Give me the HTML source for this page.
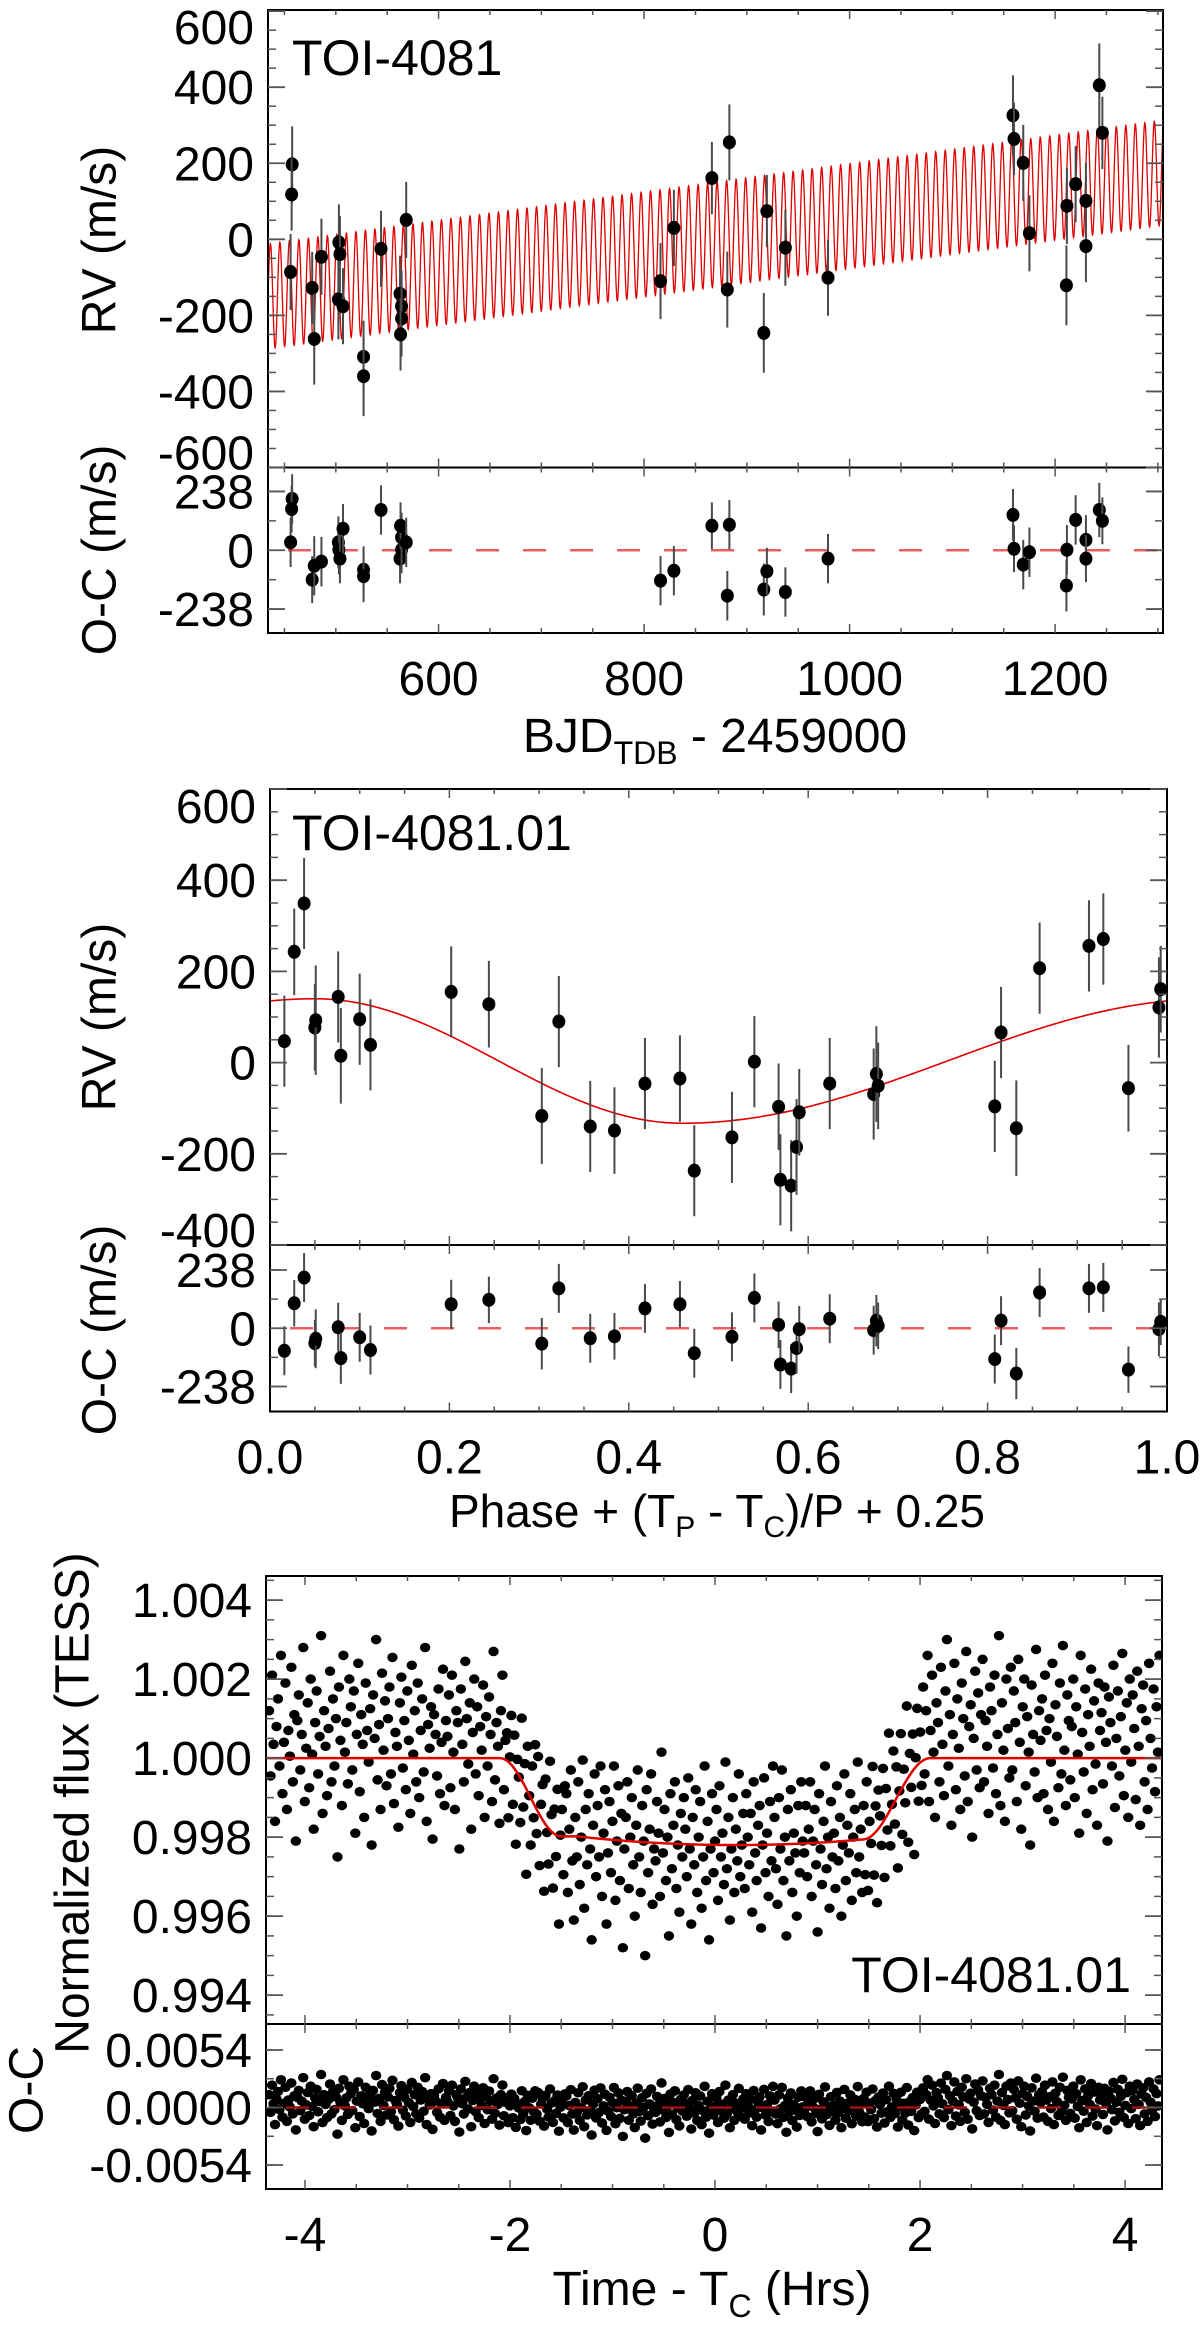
<!DOCTYPE html>
<html><head><meta charset="utf-8"><title>TOI-4081 RV and transit fits</title>
<style>
html,body{margin:0;padding:0;background:#fff;}
svg{display:block;font-family:"Liberation Sans",Arial,sans-serif;}
</style></head>
<body>
<svg id="fig" xmlns="http://www.w3.org/2000/svg" width="1200" height="2332" viewBox="0 0 1200 2332">
<defs>
<clipPath id="c1"><rect x="268" y="10" width="895" height="457.5"/></clipPath>
<clipPath id="c2"><rect x="270" y="789" width="897" height="456"/></clipPath>
<clipPath id="c3"><rect x="266" y="1576" width="896" height="448"/></clipPath>
<clipPath id="c3b"><rect x="266" y="2024" width="896" height="165"/></clipPath>
</defs>
</svg>
<script>
// ---------- Panel 1 data (RV vs time) ----------
const rv1Time=[457.5,457,456,477,479,486,502.5,503,504,507,527,527,544,562.5,564,564,563,568.5,816,829,866,883,881,916.5,919.5,937.5,979,1159,1160,1169,1175,1211,1211.5,1220,1230,1230,1243,1246];
const rv1Vel=[197,118,-86,-128,-262,-46,-158,-8,-39,-176,-309,-360,-25,-143,-176,-208,-250,51,-110,30,161,255,-132,-246,74,-22,-101,326,264,201,16,-121,88,145,101,-18,405,280];
const rv1Err=[100,95,100,95,120,100,105,100,100,100,95,105,100,100,95,100,95,100,100,100,95,100,100,105,95,100,100,105,95,100,100,105,100,100,100,95,110,95];
const oc1Vel=[208,167,32,-119,-63,-46,32,2,-34,87,-79,-105,163,-34,2,52,99,32,-123,-83,99,103,-184,-159,-85,-169,-34,143,6,-58,-8,-143,2,123,42,-34,163,119];
const p1XTicks=[600,800,1000,1200];
const p1YTicks=[-600,-400,-200,0,200,400,600];
const p1OcTicks=[-238,0,238];
// model parameters (trend + planet signal)
const m1Start=-150, m1Slope=0.373, m1K=138, m1Period=9.25;

// ---------- Panel 2 data (phased RV) ----------
const rv2Phase=[0.016,0.027,0.038,0.050,0.051,0.076,0.079,0.100,0.112,0.202,0.244,0.303,0.322,0.357,0.384,0.418,0.457,0.473,0.515,0.540,0.567,0.569,0.581,0.587,0.590,0.624,0.673,0.676,0.678,0.808,0.815,0.832,0.858,0.913,0.929,0.957,0.991,0.993];
const rv2Vel=[47,243,349,77,93,144,15,95,39,155,128,-117,90,-140,-149,-46,-35,-237,-164,2,-97,-257,-270,-185,-109,-46,-69,-25,-51,-96,66,-144,207,256,271,-56,121,161];
const oc2Vel=[-92,102,207,-61,-43,4,-122,-37,-89,98,116,-63,163,-41,-33,81,98,-102,-35,124,14,-148,-165,-81,-4,39,-8,31,10,-126,31,-185,146,163,167,-169,-4,26];
const p2XTicks=[0,0.2,0.4,0.6,0.8,1.0];
const p2YTicks=[-400,-200,0,200,400,600];
const p2OcTicks=[-238,0,238];
const m2K=136.5, m2Off=3.5, m2Peak=0.05, m2Min=0.46;

// ---------- Panel 3 data (TESS transit) ----------
const lcStart=-4.35, lcStep=0.0145;
// normalized flux minus 1, in units of 1e-5
const lcFlux=[
120,-45,210,35,-160,80,150,-20,260,-90,40,190,-130,70,5,230,-60,110,-210,95,
160,-30,60,280,-110,25,140,-75,200,10,-180,90,170,-40,55,310,-140,120,30,-95,
75,220,-60,150,-20,100,-250,180,45,-120,260,15,90,-65,200,130,-30,170,-190,60,
240,-85,110,35,-150,190,70,-10,125,-220,160,50,300,-55,85,-130,215,20,145,-70,
100,180,-40,255,-115,65,30,-175,140,205,-25,95,-80,170,45,-140,235,10,120,-60,
190,-100,70,150,-35,280,-160,85,25,130,-205,110,60,-45,175,-90,40,225,-120,95,
55,160,-75,210,15,-130,120,90,-230,175,35,-60,245,100,-15,140,-180,65,200,-40,
130,-95,80,20,185,-150,105,-20,155,60,-110,270,-55,90,30,-165,120,210,-80,45,
64,-151,3,108,-117,58,-218,-3,-48,-163,101,-124,-14,-294,30,-95,-220,-20,-151,34,
-191,4,-272,-117,-67,-337,-53,-188,-268,-8,-143,-329,-129,-249,-79,-420,-195,-130,-295,-70,
-90,-340,-180,-30,-260,-410,-150,-250,-60,-320,-200,-5,-380,-130,-270,-90,-230,-460,-170,-40,
-300,-120,-250,-20,-350,-190,-80,-420,-240,-110,-290,-160,-20,-360,-210,-70,-310,-140,-480,-230,
-150,-60,-330,-200,-100,-270,-400,-170,-30,-250,-340,-120,-210,-500,-80,-290,-180,-40,-370,-230,
-260,-110,-190,-350,15,-240,-130,-310,-200,-450,-90,-280,-170,-60,-330,-220,-390,-140,-250,-100,
-180,-300,-50,-230,-420,-150,-270,-80,-340,-200,-110,-380,-250,-20,-310,-160,-460,-230,-90,-290,
-210,-130,-360,-70,-250,-190,-320,-10,-280,-150,-410,-230,-100,-340,-180,-260,-40,-300,-220,-140,
-330,-90,-200,-270,-140,-390,-60,-240,-310,-170,-120,-430,-220,-50,-290,-190,-350,-110,-260,-20,
-150,-280,-370,-100,-230,-30,-310,-200,-450,-130,-260,-80,-340,-190,-240,-400,-120,-290,-60,-210,
-240,-120,-300,-180,-60,-350,-210,-130,-270,-440,-90,-230,-320,-160,-20,-280,-200,-380,-110,-250,
-190,-330,-70,-260,-150,-400,-220,-40,-310,-170,-240,-90,-360,-200,-130,-290,-10,-250,-180,-340,
-120,-295,-60,-335,-160,-216,-21,-296,-121,-366,-81,-146,-221,-26,-302,-77,-182,63,-222,-117,
18,-167,-22,-278,-83,62,-193,-28,-113,132,-213,12,-74,61,-244,1,126,-109,66,-69,
180,-40,120,260,-110,70,210,15,-150,140,90,-60,230,35,-95,170,300,-20,110,-170,
60,240,-80,150,25,-130,190,100,-45,270,-110,80,135,-200,50,220,-30,165,-75,110,
250,-60,95,30,-140,180,120,-25,210,-90,60,310,-120,140,20,-160,200,75,-50,230,
-30,170,90,-110,250,40,-180,130,200,-70,105,15,-220,185,60,-35,275,-100,120,45,
150,-90,210,70,-130,100,-10,240,-160,135,55,-75,190,-40,285,20,-120,160,95,-55,
80,200,-100,130,10,-190,260,65,-35,175,-140,110,30,225,-80,145,-15,-170,190,70,
115,-65,180,40,-210,155,90,-20,235,-125,50,170,-45,105,265,-95,20,140,-150,200,
-10,160,75,-105,220,30,-170,125,185,-60,95,-130,240,50,-25,175,-85,130,15,260];
const p3XTicks=[-4,-2,0,2,4];
const p3YTicks=[0.994,0.996,0.998,1.000,1.002,1.004];
const p3OcTicks=[-0.0054,0,0.0054];
const trDepth=0.0022, trT1=-2.1, trT2=-1.5, trT3=1.45, trT4=2.1;

// ---------- drawing ----------
const NS='http://www.w3.org/2000/svg';
const svg=document.getElementById('fig');
function mk(tag,attrs,parent){const e=document.createElementNS(NS,tag);for(const k in attrs)e.setAttribute(k,attrs[k]);(parent||svg).appendChild(e);return e;}
function grp(name){const g=mk('g',{});


return g;}
function lin(a,b){return v=>a[1]+(v-a[0])*(b[1]-a[1])/(b[0]-a[0]);}

function frame(P,g){
  mk('rect',{x:P.x0,y:P.y0,width:P.x1-P.x0,height:P.y1-P.y0,fill:'none',stroke:'#000','stroke-width':2},g);
  mk('line',{x1:P.x0,x2:P.x1,y1:P.ym,y2:P.ym,stroke:'#000','stroke-width':2},g);
}
function yTicks(P,g,sy,ticks,minorStep,lo,hi,fmt,top,bot){
  for(let v=Math.ceil(lo/minorStep)*minorStep; v<=hi+1e-12; v+=minorStep){
    const y=sy(v); if(y<top+1||y>bot-1) continue;
    mk('line',{x1:P.x0,x2:P.x0+8,y1:y,y2:y,stroke:'#555','stroke-width':1.5},g);
    mk('line',{x1:P.x1,x2:P.x1-8,y1:y,y2:y,stroke:'#555','stroke-width':1.5},g);
  }
  ticks.forEach(v=>{
    const y=sy(v);
    mk('line',{x1:P.x0,x2:P.x0+17,y1:y,y2:y,stroke:'#555','stroke-width':1.8},g);
    mk('line',{x1:P.x1,x2:P.x1-17,y1:y,y2:y,stroke:'#555','stroke-width':1.8},g);
    let cy=Math.min(Math.max(y,top+17),bot-15);
    const t=mk('text',{x:P.x0-14,y:cy+17,'font-size':48,'text-anchor':'end',fill:'#000'},g);
    t.textContent=fmt(v);
    
    
  });
}
function xTicks(P,g,sx,ticks,minorStep,lo,hi,fmt){
  [P.y0,P.ym,P.y1].forEach((yy,i)=>{
    for(let v=Math.ceil(lo/minorStep)*minorStep; v<=hi+1e-12; v+=minorStep){
      const x=sx(v); if(x<P.x0+1||x>P.x1-1) continue;
      const major=ticks.some(t=>Math.abs(t-v)<1e-9);
      const L=major?9:5;
      if(i!==0) mk('line',{x1:x,x2:x,y1:yy,y2:yy-L,stroke:'#555','stroke-width':1.5},g);
      if(i!==2) mk('line',{x1:x,x2:x,y1:yy,y2:yy+L,stroke:'#555','stroke-width':1.5},g);
    }
  });
  ticks.forEach(v=>{
    const t=mk('text',{x:sx(v),y:P.y1+62,'font-size':48,'text-anchor':'middle',fill:'#000'},g);
    t.textContent=fmt(v);
    
    
  });
}
function vtitle(x,y,s,size,g){
  const t=mk('text',{x:0,y:0,'font-size':size,'text-anchor':'middle','dominant-baseline':'central',transform:`translate(${x},${y}) rotate(-90)`,fill:'#000'},g);
  t.textContent=s;
  return t;
}
function pts(g,xs,ys,es,sx,sy,name){
  xs.forEach((xv,i)=>{
    const x=sx(xv), y=sy(ys[i]);
    if(es){
      const l=mk('line',{x1:x,x2:x,y1:sy(ys[i]-es[i]),y2:sy(ys[i]+es[i]),stroke:'#4a4a4a','stroke-width':2},g);
      
      
    }
    const c=mk('ellipse',{cx:x,cy:y,rx:6.5,ry:7,fill:'#000'},g);
    
    
  });
}
function zeroLine(P,g,y,color){
  const l=mk('line',{x1:P.x0,x2:P.x1,y1:y,y2:y,stroke:color,'stroke-width':2.5,'stroke-dasharray':'23 24','stroke-dashoffset':-20},g);
  
  
}

// ===== Panel 1 =====
(function(){
  const P={x0:268,x1:1163,y0:10,ym:467.5,y1:633};
  const g=grp('rv-time-panel');
  const sx=lin([434,P.x0],[1305,P.x1]);
  const sy=lin([603,P.y0],[-600,P.ym]);
  const so=lin([335,P.ym],[-335,P.y1]);
  let d='';
  for(let t=434;t<=1305;t+=0.25){
    const v=m1Start+m1Slope*(t-434)+m1K*Math.sin(2*Math.PI*(t-434)/m1Period);
    d+=(d?'L':'M')+sx(t).toFixed(2)+','+sy(v).toFixed(2);
  }
  const m=mk('path',{d:d,fill:'none',stroke:'#e00000','stroke-width':1.3,'clip-path':'url(#c1)'},g);
  
  
  zeroLine(P,g,so(0),'#e86060');
  pts(g,rv1Time,rv1Vel,rv1Err,sx,sy,'rv-point');
  pts(g,rv1Time,oc1Vel,rv1Err,sx,so,'residual-point');
  frame(P,g);
  yTicks(P,g,sy,p1YTicks,50,-600,603,v=>String(v),P.y0,P.ym);
  yTicks(P,g,so,p1OcTicks,119,-335,335,v=>String(v),P.ym,P.y1);
  xTicks(P,g,sx,p1XTicks,50,434,1305,v=>String(v));
  const ti=mk('text',{x:292,y:75,'font-size':50,fill:'#000'},g); ti.textContent='TOI-4081';
  
  
  const a=vtitle(100,240,'RV (m/s)',48,g);
  
  
  const b=vtitle(100,550,'O-C (m/s)',48,g);
  
  
  const xt=mk('text',{x:715,y:752,'font-size':48,'text-anchor':'middle',fill:'#000'},g);
  xt.innerHTML='BJD<tspan font-size="32" dy="12">TDB</tspan><tspan dy="-12"> - 2459000</tspan>';
  
  
})();

// ===== Panel 2 =====
(function(){
  const P={x0:270,x1:1167,y0:789,ym:1245,y1:1411.5};
  const g=grp('rv-phase-panel');
  const sx=lin([0,P.x0],[1,P.x1]);
  const sy=lin([600,P.y0],[-400,P.ym]);
  const so=lin([340,P.ym],[-340,P.y1]);
  const fall=m2Min-m2Peak, rise=1-fall;
  function model(ph){
    let u=ph-m2Peak; u=((u%1)+1)%1;
    let c;
    if(u<=fall) c=Math.cos(Math.PI*u/fall);
    else c=Math.cos(Math.PI+Math.PI*(u-fall)/rise);
    return m2Off+m2K*c;
  }
  let d='';
  for(let i=0;i<=400;i++){
    const ph=i/400;
    d+=(d?'L':'M')+sx(ph).toFixed(2)+','+sy(model(ph)).toFixed(2);
  }
  const m=mk('path',{d:d,fill:'none',stroke:'#e00000','stroke-width':1.6,'clip-path':'url(#c2)'},g);
  
  
  zeroLine(P,g,so(0),'#e86060');
  pts(g,rv2Phase,rv2Vel,rv1Err,sx,sy,'rv-point');
  pts(g,rv2Phase,oc2Vel,rv1Err,sx,so,'residual-point');
  frame(P,g);
  yTicks(P,g,sy,p2YTicks,50,-400,600,v=>String(v),P.y0,P.ym);
  yTicks(P,g,so,p2OcTicks,119,-340,340,v=>String(v),P.ym,P.y1);
  xTicks(P,g,sx,p2XTicks,0.05,0,1,v=>v.toFixed(1));
  const ti=mk('text',{x:292,y:850,'font-size':50,fill:'#000'},g); ti.textContent='TOI-4081.01';
  
  
  const a=vtitle(100,1017,'RV (m/s)',48,g);
  
  
  const b=vtitle(100,1330,'O-C (m/s)',48,g);
  
  
  const xt=mk('text',{x:717,y:1527,'font-size':46,'text-anchor':'middle',fill:'#000'},g);
  xt.innerHTML='Phase + (T<tspan font-size="30" dy="10">P</tspan><tspan dy="-10"> - T</tspan><tspan font-size="30" dy="10">C</tspan><tspan dy="-10">)/P + 0.25</tspan>';
  
  
})();

// ===== Panel 3 =====
(function(){
  const P={x0:266,x1:1162,y0:1576,ym:2024,y1:2189};
  const g=grp('transit-panel');
  const sx=lin([-4.38,P.x0],[4.36,P.x1]);
  const sy=lin([1.00461,P.y0],[0.99327,P.ym]);
  const so=lin([0.00784,P.ym],[-0.00765,P.y1]);
  function model(t){
    let f;
    if(t<=trT1||t>=trT4) f=0;
    else if(t<trT2) f=(1-Math.cos(Math.PI*(t-trT1)/(trT2-trT1)))/2;
    else if(t>trT3) f=(1+Math.cos(Math.PI*(t-trT3)/(trT4-trT3)))/2;
    else f=1;
    const limb=1-0.12*Math.pow((t-0.2)/1.7,2);
    return 1-trDepth*f*Math.max(limb,0.9);
  }
  const gd=grp('flux-points');
  g.appendChild(gd);
  gd.setAttribute('clip-path','url(#c3)');
  const go=grp('flux-residual-points');
  g.appendChild(go);
  go.setAttribute('clip-path','url(#c3b)');
  lcFlux.forEach((fv,i)=>{
    const t=lcStart+i*lcStep, f=1+fv*1e-5;
    const c=mk('ellipse',{cx:sx(t),cy:sy(f),rx:5.2,ry:4.8,fill:'#000'},gd);
    
    
    const r=mk('ellipse',{cx:sx(t),cy:so(f-model(t)),rx:5.2,ry:4.8,fill:'#000'},go);
    
    
  });
  let d='';
  for(let t=-4.38;t<=4.36;t+=0.02){d+=(d?'L':'M')+sx(t).toFixed(2)+','+sy(model(t)).toFixed(2);}
  const m=mk('path',{d:d,fill:'none',stroke:'#e00000','stroke-width':2.5},g);
  
  
  zeroLine(P,g,so(0),'#a01010');
  frame(P,g);
  yTicks(P,g,sy,p3YTicks,0.0005,0.99327,1.00461,v=>v.toFixed(3),P.y0,P.ym);
  yTicks(P,g,so,p3OcTicks,0.0027,-0.00765,0.00784,v=>v.toFixed(4),P.ym,P.y1);
  xTicks(P,g,sx,p3XTicks,0.5,-4.38,4.36,v=>String(v));
  const ti=mk('text',{x:1131,y:1992,'font-size':50,'text-anchor':'end',fill:'#000'},g); ti.textContent='TOI-4081.01';
  
  
  const a=vtitle(73,1803,'Normalized flux (TESS)',48,g);
  
  
  const b=vtitle(27,2090,'O-C',48,g);
  
  
  const xt=mk('text',{x:712,y:2305,'font-size':48,'text-anchor':'middle',fill:'#000'},g);
  xt.innerHTML='Time - T<tspan font-size="32" dy="12">C</tspan><tspan dy="-12"> (Hrs)</tspan>';
  
  
})();
</script>
</body></html>
